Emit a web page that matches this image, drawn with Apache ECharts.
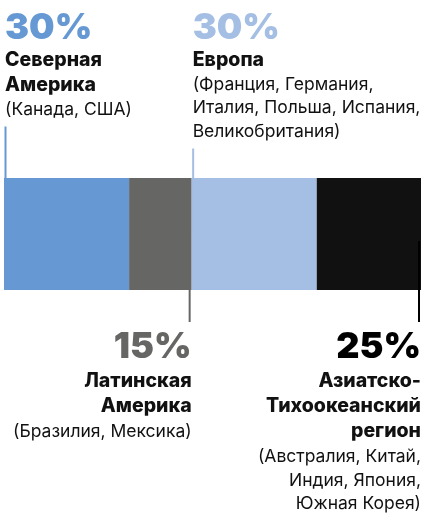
<!DOCTYPE html>
<html lang="ru">
<head>
<meta charset="UTF-8">
<title>Регионы</title>
<script src="https://cdn.jsdelivr.net/npm/echarts@6/dist/echarts.min.js"></script>
<style>
  html, body { margin: 0; padding: 0; background: #fff; }
  #chart { width: 427px; height: 513px; }
</style>
</head>
<body>
<div id="chart"></div>
<script>
// данные
const regions = ['Северная Америка', 'Латинская Америка', 'Европа', 'Азиатско-Тихоокеанский регион'];
const shares = [30, 15, 30, 25];
const titleLines = [
  ['Северная', 'Америка'],
  ['Латинская', 'Америка'],
  ['Европа'],
  ['Азиатско-', 'Тихоокеанский', 'регион']
];
const countryLines = [
  ['(Канада, США)'],
  ['(Бразилия, Мексика)'],
  ['(Франция, Германия,', 'Италия, Польша, Испания,', 'Великобритания)'],
  ['(Австралия, Китай,', 'Индия, Япония,', 'Южная Корея)']
];
// подпись сверху или снизу полосы
const labelSide = ['top', 'bottom', 'top', 'bottom'];

const colors = ['#6699d3', '#666665', '#a4bfe3', '#111111'];
const lineColors = ['#6699d3', '#666665', '#a4bfe3', '#000000'];
const FONT = 'Inter, "Open Sans", sans-serif';

let chart = echarts.init(document.getElementById('chart'));

let option = {
  animation: false,
  grid: { left: 4, right: 6, top: 178, height: 112 },
  xAxis: { type: 'value', min: 0, max: 100, show: false },
  yAxis: { type: 'category', data: ['доля'], show: false },
  series: regions.map((name, i) => ({
    name: name,
    type: 'bar',
    stack: 'all',
    barWidth: '100%',
    itemStyle: { color: colors[i] },
    data: [shares[i]]
  }))
};
chart.setOption(option);

// подписи и выноски
let graphics = [];
let barTop = chart.convertToPixel({ gridIndex: 0 }, [0, 0])[1] - 56;
let acc = 0;
shares.forEach((v, i) => {
  let x0 = chart.convertToPixel({ xAxisIndex: 0 }, acc);
  let x1 = chart.convertToPixel({ xAxisIndex: 0 }, acc + v);
  acc += v;
  let top = labelSide[i] === 'top';
  let x = top ? x0 + 1 : x1;
  let align = top ? 'left' : 'right';
  let y = top ? 28 : 347;

  graphics.push({
    type: 'text', x: x, y: y, z: 10,
    style: {
      text: v + '%', fill: lineColors[i], font: '900 36px ' + FONT,
      align: align, verticalAlign: 'middle', textAlign: align, textVerticalAlign: 'middle'
    }
  });
  y += top ? 32 : 34;
  titleLines[i].forEach((t, k) => {
    if (k > 0) y += 25;
    graphics.push({
      type: 'text', x: x, y: y, z: 10,
      style: {
        text: t, fill: '#111', font: '800 19.5px ' + FONT,
        align: align, verticalAlign: 'middle', textAlign: align, textVerticalAlign: 'middle'
      }
    });
  });
  y += top ? 24.5 : 26;
  countryLines[i].forEach((t, k) => {
    if (k > 0) y += 23.5;
    graphics.push({
      type: 'text', x: x, y: y, z: 10,
      style: {
        text: t, fill: '#111', font: '17.5px ' + FONT,
        align: align, verticalAlign: 'middle', textAlign: align, textVerticalAlign: 'middle'
      }
    });
  });

  let lx = top ? x0 + 1.5 : x1 - 2;
  let y1, y2;
  if (top) {
    y1 = y + 17;
    y2 = i === 0 ? barTop : barTop + 55;
  } else {
    y1 = i === 1 ? barTop + 57 : barTop + 63;
    y2 = 322;
  }
  graphics.push({
    type: 'line', z: 20,
    shape: { x1: lx, y1: y1, x2: lx, y2: y2 },
    style: { stroke: lineColors[i], lineWidth: 2 }
  });
});

chart.setOption({ graphic: graphics });
</script>
</body>
</html>
